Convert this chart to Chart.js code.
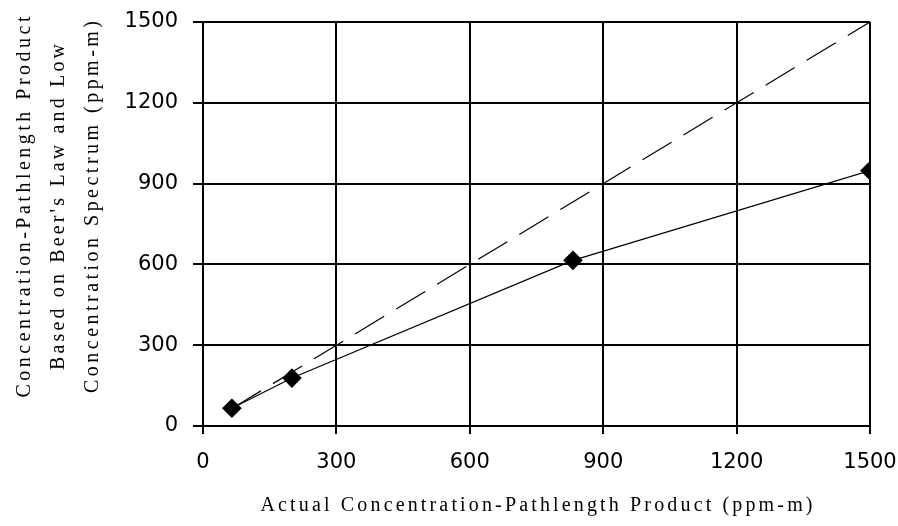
<!DOCTYPE html>
<html lang="en">
<head>
  <meta charset="UTF-8">
  <title>Concentration-Pathlength Product</title>
  <script src="https://cdn.jsdelivr.net/npm/chart.js"></script>
  <style>
    html, body { margin: 0; padding: 0; background: #fff; }
    #wrap { width: 898px; height: 526px; }
  </style>
</head>
<body>
  <div id="wrap"><canvas id="chart" width="898" height="526"></canvas></div>

  <script>
    // values
    const actual    = [65, 200, 832, 1500];
    const predicted = [66, 178, 615, 948];
    const idealX    = [65, 1500];
    const tickValues = [0, 300, 600, 900, 1200, 1500];

    const xTitle = 'Actual Concentration-Pathlength Product (ppm-m)';
    const yTitle = [
      'Concentration-Pathlength Product',
      "Based on Beer's Law and Low",
      'Concentration Spectrum (ppm-m)'
    ];

    // stretch text to a target width, like the old bitmap fonts in the original
    function spacedText(ctx, text, x, y, width) {
      ctx.letterSpacing = '0px';
      const natural = ctx.measureText(text).width;
      const sp = Math.max(0, (width - natural) / (text.length - 1));
      ctx.letterSpacing = sp + 'px';
      ctx.fillText(text, x + sp / 2, y);
      ctx.letterSpacing = '0px';
    }

    const axisTitles = {
      id: 'axisTitles',
      afterDraw(chart) {
        const ctx = chart.ctx;
        const area = chart.chartArea;
        ctx.save();
        ctx.fillStyle = '#000';
        ctx.font = '20px "Liberation Serif", serif';
        ctx.textAlign = 'center';
        ctx.textBaseline = 'middle';
        spacedText(ctx, xTitle, (area.left + area.right) / 2, 506, 552);

        const widths = [381, 326, 372];
        ctx.translate(0, 207);
        ctx.rotate(-Math.PI / 2);
        yTitle.forEach((line, i) => {
          spacedText(ctx, line, 0, 25 + i * 34, widths[i]);
        });
        ctx.restore();
      }
    };

    const tickFont = { family: '"DejaVu Sans", sans-serif', size: 21, weight: 'normal' };

    const ctx = document.getElementById('chart').getContext('2d');
    new Chart(ctx, {
      type: 'scatter',
      data: {
        datasets: [
          {
            label: 'Beer\'s law',
            data: actual.map((x, i) => ({ x: x, y: predicted[i] })),
            showLine: true,
            borderColor: '#000',
            borderWidth: 1.2,
            backgroundColor: '#000',
            pointStyle: 'rectRot',
            pointRadius: 9,
            pointHoverRadius: 9
          },
          {
            label: '1:1',
            data: idealX.map(x => ({ x: x, y: x })),
            showLine: true,
            borderColor: '#000',
            borderWidth: 1.2,
            borderDash: [34, 14],
            pointRadius: 0
          }
        ]
      },
      options: {
        responsive: false,
        animation: false,
        layout: { padding: { top: 22, right: 28, left: 0, bottom: 0 } },
        plugins: {
          legend: { display: false },
          tooltip: { enabled: false }
        },
        scales: {
          x: {
            type: 'linear',
            min: 0,
            max: 1500,
            afterBuildTicks: axis => { axis.ticks = tickValues.map(v => ({ value: v })); },
            afterFit: axis => {
              axis.height = 100;
              axis.paddingLeft = 0;
              axis.paddingRight = 0;
            },
            grid: { color: '#000', lineWidth: 2, tickLength: 8, tickColor: '#000' },
            border: { color: '#000', width: 2 },
            ticks: {
              color: '#000',
              padding: 16,
              maxRotation: 0,
              callback: v => String(v),
              font: tickFont
            }
          },
          y: {
            type: 'linear',
            min: 0,
            max: 1500,
            afterBuildTicks: axis => { axis.ticks = tickValues.map(v => ({ value: v })); },
            afterFit: axis => {
              axis.width = 203;
              axis.paddingTop = 0;
              axis.paddingBottom = 0;
            },
            grid: { color: '#000', lineWidth: 2, tickLength: 10, tickColor: '#000' },
            border: { color: '#000', width: 2 },
            ticks: {
              color: '#000',
              padding: 15,
              callback: v => String(v),
              font: tickFont
            }
          }
        }
      },
      plugins: [axisTitles]
    });
  </script>
</body>
</html>
